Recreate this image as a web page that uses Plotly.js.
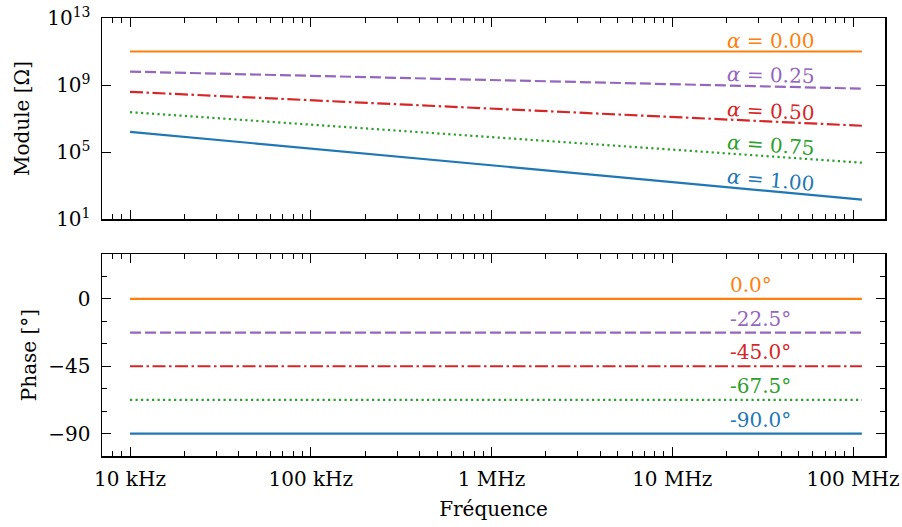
<!DOCTYPE html>
<html>
<head>
<meta charset="utf-8">
<script src="https://cdn.plot.ly/plotly-3.0.1.min.js"></script>
<style>html,body{margin:0;padding:0;background:#fff;}#chart{width:902px;height:527px;}</style>
</head>
<body>
<div id="chart"></div>
<script>
// ---- data ----
const freqHz = [1e4, 1.12e8];                       // start / end of each line
const alphaLabels = ['0.00', '0.25', '0.50', '0.75', '1.00'];
const moduleStart = [1e11, 6.3e9, 3.9e8, 2.4e7, 1.6e6];  // |Z| at 10 kHz (Ω)
const moduleEnd   = [1e11, 6.1e8, 3.7e6, 2.3e4, 1.45e2]; // |Z| at 112 MHz (Ω)
const phaseDeg    = [0, -22.5, -45, -67.5, -90];        // phase (°)
const phaseLabels = ['0.0°', '-22.5°', '-45.0°', '-67.5°', '-90.0°'];
const freqTickVals = [1e4, 1e5, 1e6, 1e7, 1e8];
const freqTickText = ['10 kHz', '100 kHz', '1 MHz', '10 MHz', '100 MHz'];
const modTickVals = [1e1, 1e5, 1e9, 1e13];
const modTickText = ['10<sup>1</sup>', '10<sup>5</sup>', '10<sup>9</sup>', '10<sup>13</sup>'];
const phaseTickVals = [-90, -45, 0];
const phaseTickText = ['\u221290', '\u221245', '0'];

// ---- styles ----
const colors = ['#ff7f0e', '#9467bd', '#d62728', '#2ca02c', '#1f77b4'];
const dashes = ['solid', '11px,4px', '13px,3.5px,2.5px,3.5px', '2.2px,3.3px', 'solid'];
const FONT = 'DejaVu Serif';
const FS = 20;

const traces = [];
for (let i = 0; i < alphaLabels.length; i++) {
  traces.push({
    x: freqHz, y: [moduleStart[i], moduleEnd[i]],
    xaxis: 'x', yaxis: 'y', mode: 'lines',
    line: {color: colors[i], width: 2.2, dash: dashes[i]},
    hoverinfo: 'skip'
  });
  traces.push({
    x: freqHz, y: [phaseDeg[i], phaseDeg[i]],
    xaxis: 'x2', yaxis: 'y2', mode: 'lines',
    line: {color: colors[i], width: 2.2, dash: dashes[i]},
    hoverinfo: 'skip'
  });
}

// minor tick positions on the log frequency axis
const minorF = [];
for (let e = 3; e <= 8; e++) for (let m = 2; m <= 9; m++) minorF.push(m * Math.pow(10, e));

// label placement (layout only)
const labX = 3.5e7;
const lx0 = Math.log10(freqHz[0]), lx1 = Math.log10(freqHz[1]);
const t = (Math.log10(labX) - lx0) / (lx1 - lx0);
const xrange = [3.845, 8.177];
const yrange = [1, 13];
const plotW = 902 - 102 - 17, topH = 201;
const annotations = [];
for (let i = 0; i < alphaLabels.length; i++) {
  const ly0 = Math.log10(moduleStart[i]), ly1 = Math.log10(moduleEnd[i]);
  const ly = ly0 + t * (ly1 - ly0);
  const dxPix = (lx1 - lx0) / (xrange[1] - xrange[0]) * plotW;
  const dyPix = (ly0 - ly1) / (yrange[1] - yrange[0]) * topH;
  const ang = Math.atan2(dyPix, dxPix) * 180 / Math.PI;
  annotations.push({
    xref: 'x', yref: 'y', x: Math.log10(labX), y: ly,
    text: '<i>α</i> = ' + alphaLabels[i],
    showarrow: false, xanchor: 'center', yanchor: 'middle',
    yshift: 11, textangle: ang,
    font: {family: FONT, size: FS, color: colors[i]}
  });
  annotations.push({
    xref: 'x2', yref: 'y2', x: Math.log10(2.04e7), y: phaseDeg[i],
    text: phaseLabels[i],
    showarrow: false, xanchor: 'left', yanchor: 'middle',
    yshift: 14,
    font: {family: FONT, size: FS, color: colors[i]}
  });
}

const axCommon = {
  showline: true, linecolor: '#000', linewidth: 1.5, mirror: 'allticks',
  ticks: 'inside', ticklen: 9, tickwidth: 1, tickcolor: '#000',
  showgrid: false, zeroline: false,
  tickfont: {family: FONT, size: FS, color: '#000'}
};

const layout = {
  width: 902, height: 527,
  margin: {l: 102, r: 17, t: 18, b: 71},
  paper_bgcolor: '#fff', plot_bgcolor: '#fff',
  showlegend: false,
  font: {family: FONT, size: FS, color: '#000'},
  xaxis: Object.assign({}, axCommon, {
    type: 'log', range: xrange, domain: [0, 1], anchor: 'y', matches: 'x2',
    tickmode: 'array', tickvals: freqTickVals, ticktext: freqTickText, showticklabels: false,
    minor: {ticks: 'inside', ticklen: 5, tickwidth: 1, tickcolor: '#000', tickmode: 'array', tickvals: minorF, showgrid: false}
  }),
  yaxis: Object.assign({}, axCommon, {
    type: 'log', range: yrange, domain: [0.541, 1], anchor: 'x',
    tickmode: 'array', tickvals: modTickVals, ticktext: modTickText,
    ticklabelstandoff: 6,
    title: {text: 'Module [Ω]', font: {family: FONT, size: FS, color: '#000'}, standoff: 12}
  }),
  xaxis2: Object.assign({}, axCommon, {
    type: 'log', range: xrange, domain: [0, 1], anchor: 'y2',
    tickmode: 'array', tickvals: freqTickVals, ticktext: freqTickText,
    ticklabelstandoff: 4,
    minor: {ticks: 'inside', ticklen: 5, tickwidth: 1, tickcolor: '#000', tickmode: 'array', tickvals: minorF, showgrid: false},
    title: {text: 'Fréquence', font: {family: FONT, size: FS, color: '#000'}, standoff: 12}
  }),
  yaxis2: Object.assign({}, axCommon, {
    range: [-105, 30], domain: [0, 0.461], anchor: 'x2',
    tickmode: 'array', tickvals: phaseTickVals, ticktext: phaseTickText,
    ticklabelstandoff: 6,
    minor: {ticks: 'inside', ticklen: 5, tickwidth: 1, tickcolor: '#000', tickmode: 'linear', tick0: 0, dtick: 15, showgrid: false},
    title: {text: 'Phase [°]', font: {family: FONT, size: FS, color: '#000'}, standoff: 6}
  }),
  annotations: annotations
};

Plotly.newPlot('chart', traces, layout, {staticPlot: true, displayModeBar: false});
</script>
</body>
</html>
